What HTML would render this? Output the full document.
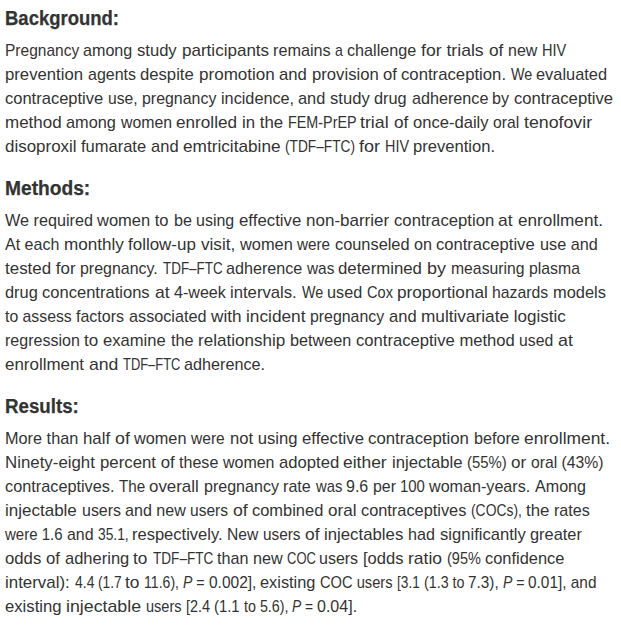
<!DOCTYPE html><html><head><meta charset="utf-8"><style>
html,body{margin:0;padding:0;background:#fff;width:621px;height:629px;overflow:hidden}
body{position:relative;font-family:"Liberation Sans",sans-serif}
.l{position:absolute;white-space:pre;transform-origin:0 0;line-height:1}
.b{font-size:17px;color:#333;}
.h{font-size:19.5px;color:#333;font-weight:bold;-webkit-text-stroke:0.25px #333}
</style></head><body>
<div class="l h" style="left:5.00px;top:9.30px;transform:scaleX(0.9479)">Background:</div>
<div class="l b" style="left:5.00px;top:41.80px;transform:scaleX(0.9122)">Pregnancy </div>
<div class="l b" style="left:83.45px;top:41.80px;transform:scaleX(0.9483)">among </div>
<div class="l b" style="left:137.22px;top:41.80px;transform:scaleX(0.9761)">study </div>
<div class="l b" style="left:181.50px;top:41.80px;transform:scaleX(1.0019)">participants </div>
<div class="l b" style="left:273.35px;top:41.80px;transform:scaleX(0.9530)">remains </div>
<div class="l b" style="left:335.47px;top:41.80px;transform:scaleX(0.8302)">a </div>
<div class="l b" style="left:347.25px;top:41.80px;transform:scaleX(0.9514)">challenge </div>
<div class="l b" style="left:421.00px;top:41.80px;transform:scaleX(1.0368)">for trials </div>
<div class="l b" style="left:488.59px;top:41.80px;transform:scaleX(1.0141)">of </div>
<div class="l b" style="left:507.76px;top:41.80px;transform:scaleX(0.9405)">new </div>
<div class="l b" style="left:541.54px;top:41.80px;transform:scaleX(0.8556)">HIV</div>
<div class="l b" style="left:5.00px;top:65.80px;transform:scaleX(0.9826)">prevention </div>
<div class="l b" style="left:87.66px;top:65.80px;transform:scaleX(0.9407)">agents </div>
<div class="l b" style="left:140.12px;top:65.80px;transform:scaleX(0.9804)">despite </div>
<div class="l b" style="left:198.50px;top:65.80px;transform:scaleX(1.0024)">promotion </div>
<div class="l b" style="left:279.02px;top:65.80px;transform:scaleX(0.9821)">and </div>
<div class="l b" style="left:311.52px;top:65.80px;transform:scaleX(0.9813)">provision </div>
<div class="l b" style="left:382.92px;top:65.80px;transform:scaleX(0.9782)">of </div>
<div class="l b" style="left:401.42px;top:65.80px;transform:scaleX(0.9836)">contraception. </div>
<div class="l b" style="left:511.10px;top:65.80px;transform:scaleX(0.8434)">We </div>
<div class="l b" style="left:536.34px;top:65.80px;transform:scaleX(0.9639)">evaluated</div>
<div class="l b" style="left:5.00px;top:89.80px;transform:scaleX(0.9710)">contraceptive </div>
<div class="l b" style="left:107.78px;top:89.80px;transform:scaleX(0.9220)">use, </div>
<div class="l b" style="left:141.76px;top:89.80px;transform:scaleX(0.9365)">pregnancy </div>
<div class="l b" style="left:220.55px;top:89.80px;transform:scaleX(0.9546)">incidence, </div>
<div class="l b" style="left:298.14px;top:89.80px;transform:scaleX(0.9635)">and </div>
<div class="l b" style="left:330.02px;top:89.80px;transform:scaleX(0.9770)">study </div>
<div class="l b" style="left:374.34px;top:89.80px;transform:scaleX(0.9602)">drug </div>
<div class="l b" style="left:411.55px;top:89.80px;transform:scaleX(0.9509)">adherence </div>
<div class="l b" style="left:492.45px;top:89.80px;transform:scaleX(0.9508)">by </div>
<div class="l b" style="left:514.02px;top:89.80px;transform:scaleX(0.9798)">contraceptive</div>
<div class="l b" style="left:5.00px;top:113.80px;transform:scaleX(0.9984)">method </div>
<div class="l b" style="left:66.34px;top:113.80px;transform:scaleX(0.9587)">among </div>
<div class="l b" style="left:120.70px;top:113.80px;transform:scaleX(0.9321)">women </div>
<div class="l b" style="left:176.19px;top:113.80px;transform:scaleX(1.0092)">enrolled </div>
<div class="l b" style="left:242.01px;top:113.80px;transform:scaleX(0.9877)">in the </div>
<div class="l b" style="left:287.76px;top:113.80px;transform:scaleX(0.8447)">FEM-PrEP </div>
<div class="l b" style="left:360.10px;top:113.80px;transform:scaleX(1.0455)">trial </div>
<div class="l b" style="left:393.69px;top:113.80px;transform:scaleX(1.0122)">of </div>
<div class="l b" style="left:412.83px;top:113.80px;transform:scaleX(0.9749)">once-daily </div>
<div class="l b" style="left:492.98px;top:113.80px;transform:scaleX(0.9227)">oral </div>
<div class="l b" style="left:523.50px;top:113.80px;transform:scaleX(1.0446)">tenofovir</div>
<div class="l b" style="left:5.00px;top:137.80px;transform:scaleX(0.9968)">disoproxil </div>
<div class="l b" style="left:81.30px;top:137.80px;transform:scaleX(0.9710)">fumarate </div>
<div class="l b" style="left:151.03px;top:137.80px;transform:scaleX(0.9718)">and </div>
<div class="l b" style="left:183.19px;top:137.80px;transform:scaleX(1.0118)">emtricitabine </div>
<div class="l b" style="left:285.49px;top:137.80px;transform:scaleX(0.8058)">(TDF&ndash;FTC) </div>
<div class="l b" style="left:359.30px;top:137.80px;transform:scaleX(1.0648)">for </div>
<div class="l b" style="left:385.45px;top:137.80px;transform:scaleX(0.8460)">HIV </div>
<div class="l b" style="left:413.42px;top:137.80px;transform:scaleX(0.9756)">prevention.</div>
<div class="l h" style="left:5.00px;top:179.00px;transform:scaleX(0.9835)">Methods:</div>
<div class="l b" style="left:5.00px;top:211.70px;transform:scaleX(0.9524)">We required </div>
<div class="l b" style="left:97.40px;top:211.70px;transform:scaleX(0.9708)">women to </div>
<div class="l b" style="left:173.55px;top:211.70px;transform:scaleX(0.9523)">be </div>
<div class="l b" style="left:196.06px;top:211.70px;transform:scaleX(0.9400)">using </div>
<div class="l b" style="left:238.71px;top:211.70px;transform:scaleX(0.9890)">effective </div>
<div class="l b" style="left:305.70px;top:211.70px;transform:scaleX(1.0005)">non-barrier </div>
<div class="l b" style="left:393.62px;top:211.70px;transform:scaleX(0.9819)">contraception </div>
<div class="l b" style="left:498.48px;top:211.70px;transform:scaleX(1.0214)">at </div>
<div class="l b" style="left:517.79px;top:211.70px;transform:scaleX(1.0111)">enrollment.</div>
<div class="l b" style="left:5.00px;top:235.70px;transform:scaleX(0.9426)">At each </div>
<div class="l b" style="left:63.79px;top:235.70px;transform:scaleX(1.0055)">monthly </div>
<div class="l b" style="left:128.40px;top:235.70px;transform:scaleX(0.9977)">follow-up </div>
<div class="l b" style="left:201.00px;top:235.70px;transform:scaleX(1.0069)">visit, </div>
<div class="l b" style="left:240.00px;top:235.70px;transform:scaleX(0.9642)">women </div>
<div class="l b" style="left:297.40px;top:235.70px;transform:scaleX(0.8980)">were </div>
<div class="l b" style="left:334.74px;top:235.70px;transform:scaleX(0.9620)">counseled </div>
<div class="l b" style="left:413.85px;top:235.70px;transform:scaleX(0.9507)">on </div>
<div class="l b" style="left:436.32px;top:235.70px;transform:scaleX(0.9752)">contraceptive </div>
<div class="l b" style="left:539.54px;top:235.70px;transform:scaleX(0.9552)">use and</div>
<div class="l b" style="left:5.00px;top:259.70px;transform:scaleX(0.9967)">tested for </div>
<div class="l b" style="left:80.36px;top:259.70px;transform:scaleX(0.9379)">pregnancy. </div>
<div class="l b" style="left:162.50px;top:259.70px;transform:scaleX(0.7891)">TDF&ndash;FTC </div>
<div class="l b" style="left:225.85px;top:259.70px;transform:scaleX(0.9503)">adherence </div>
<div class="l b" style="left:306.70px;top:259.70px;transform:scaleX(0.9041)">was </div>
<div class="l b" style="left:338.31px;top:259.70px;transform:scaleX(0.9861)">determined </div>
<div class="l b" style="left:426.85px;top:259.70px;transform:scaleX(1.0547)">by </div>
<div class="l b" style="left:450.77px;top:259.70px;transform:scaleX(0.9261)">measuring </div>
<div class="l b" style="left:528.67px;top:259.70px;transform:scaleX(0.9296)">plasma</div>
<div class="l b" style="left:5.00px;top:283.70px;transform:scaleX(0.9633)">drug </div>
<div class="l b" style="left:42.33px;top:283.70px;transform:scaleX(0.9735)">concentrations </div>
<div class="l b" style="left:154.57px;top:283.70px;transform:scaleX(1.0276)">at </div>
<div class="l b" style="left:174.00px;top:283.70px;transform:scaleX(0.9460)">4-week </div>
<div class="l b" style="left:230.32px;top:283.70px;transform:scaleX(0.9812)">intervals. </div>
<div class="l b" style="left:301.70px;top:283.70px;transform:scaleX(0.8404)">We </div>
<div class="l b" style="left:326.85px;top:283.70px;transform:scaleX(0.9544)">used </div>
<div class="l b" style="left:366.54px;top:283.70px;transform:scaleX(0.8592)">Cox </div>
<div class="l b" style="left:396.59px;top:283.70px;transform:scaleX(1.0124)">proportional </div>
<div class="l b" style="left:492.27px;top:283.70px;transform:scaleX(0.9288)">hazards </div>
<div class="l b" style="left:552.83px;top:283.70px;transform:scaleX(0.9660)">models</div>
<div class="l b" style="left:5.00px;top:307.70px;transform:scaleX(0.9288)">to assess </div>
<div class="l b" style="left:76.10px;top:307.70px;transform:scaleX(0.9425)">factors </div>
<div class="l b" style="left:128.65px;top:307.70px;transform:scaleX(0.9541)">associated </div>
<div class="l b" style="left:210.70px;top:307.70px;transform:scaleX(1.0090)">with </div>
<div class="l b" style="left:245.98px;top:307.70px;transform:scaleX(1.0150)">incident </div>
<div class="l b" style="left:310.27px;top:307.70px;transform:scaleX(0.9339)">pregnancy </div>
<div class="l b" style="left:388.83px;top:307.70px;transform:scaleX(0.9718)">and </div>
<div class="l b" style="left:420.99px;top:307.70px;transform:scaleX(1.0128)">multivariate </div>
<div class="l b" style="left:513.80px;top:307.70px;transform:scaleX(1.0000)">logistic</div>
<div class="l b" style="left:5.00px;top:331.70px;transform:scaleX(0.9428)">regression </div>
<div class="l b" style="left:84.30px;top:331.70px;transform:scaleX(1.0010)">to </div>
<div class="l b" style="left:103.22px;top:331.70px;transform:scaleX(0.9752)">examine </div>
<div class="l b" style="left:170.50px;top:331.70px;transform:scaleX(0.9554)">the </div>
<div class="l b" style="left:197.60px;top:331.70px;transform:scaleX(1.0041)">relationship </div>
<div class="l b" style="left:289.65px;top:331.70px;transform:scaleX(0.9547)">between </div>
<div class="l b" style="left:355.52px;top:331.70px;transform:scaleX(0.9772)">contraceptive method </div>
<div class="l b" style="left:518.97px;top:331.70px;transform:scaleX(0.9276)">used </div>
<div class="l b" style="left:557.55px;top:331.70px;transform:scaleX(1.0462)">at</div>
<div class="l b" style="left:5.00px;top:355.70px;transform:scaleX(0.9959)">enrollment </div>
<div class="l b" style="left:88.76px;top:355.70px;transform:scaleX(1.0376)">and </div>
<div class="l b" style="left:123.10px;top:355.70px;transform:scaleX(0.7592)">TDF&ndash;FTC </div>
<div class="l b" style="left:184.05px;top:355.70px;transform:scaleX(0.9524)">adherence.</div>
<div class="l h" style="left:5.00px;top:397.00px;transform:scaleX(0.9600)">Results:</div>
<div class="l b" style="left:5.00px;top:429.50px;transform:scaleX(0.9575)">More than </div>
<div class="l b" style="left:82.81px;top:429.50px;transform:scaleX(0.9875)">half </div>
<div class="l b" style="left:114.55px;top:429.50px;transform:scaleX(1.0499)">of </div>
<div class="l b" style="left:134.40px;top:429.50px;transform:scaleX(0.9575)">women </div>
<div class="l b" style="left:191.40px;top:429.50px;transform:scaleX(0.9168)">were </div>
<div class="l b" style="left:229.52px;top:429.50px;transform:scaleX(0.9791)">not using </div>
<div class="l b" style="left:301.72px;top:429.50px;transform:scaleX(0.9832)">effective </div>
<div class="l b" style="left:368.31px;top:429.50px;transform:scaleX(0.9882)">contraception </div>
<div class="l b" style="left:473.85px;top:429.50px;transform:scaleX(0.9507)">before </div>
<div class="l b" style="left:524.18px;top:429.50px;transform:scaleX(1.0222)">enrollment.</div>
<div class="l b" style="left:5.00px;top:453.50px;transform:scaleX(0.9913)">Ninety-eight </div>
<div class="l b" style="left:99.61px;top:453.50px;transform:scaleX(0.9883)">percent of </div>
<div class="l b" style="left:179.00px;top:453.50px;transform:scaleX(0.9457)">these </div>
<div class="l b" style="left:222.80px;top:453.50px;transform:scaleX(0.9377)">women </div>
<div class="l b" style="left:278.62px;top:453.50px;transform:scaleX(0.9798)">adopted </div>
<div class="l b" style="left:343.47px;top:453.50px;transform:scaleX(1.0274)">either </div>
<div class="l b" style="left:392.02px;top:453.50px;transform:scaleX(0.9810)">injectable </div>
<div class="l b" style="left:467.13px;top:453.50px;transform:scaleX(0.8741)">(55%) </div>
<div class="l b" style="left:510.90px;top:453.50px;transform:scaleX(1.0017)">or </div>
<div class="l b" style="left:530.78px;top:453.50px;transform:scaleX(0.9250)">oral (43%)</div>
<div class="l b" style="left:5.00px;top:477.50px;transform:scaleX(0.9575)">contraceptives. </div>
<div class="l b" style="left:119.00px;top:477.50px;transform:scaleX(0.8935)">The </div>
<div class="l b" style="left:149.41px;top:477.50px;transform:scaleX(0.9934)">overall </div>
<div class="l b" style="left:203.86px;top:477.50px;transform:scaleX(0.9438)">pregnancy </div>
<div class="l b" style="left:283.25px;top:477.50px;transform:scaleX(0.9506)">rate </div>
<div class="l b" style="left:315.60px;top:477.50px;transform:scaleX(0.8710)">was </div>
<div class="l b" style="left:346.06px;top:477.50px;transform:scaleX(0.9418)">9.6 </div>
<div class="l b" style="left:372.77px;top:477.50px;transform:scaleX(0.9337)">per </div>
<div class="l b" style="left:400.12px;top:477.50px;transform:scaleX(0.8787)">100 </div>
<div class="l b" style="left:429.20px;top:477.50px;transform:scaleX(0.9481)">woman-years. </div>
<div class="l b" style="left:534.90px;top:477.50px;transform:scaleX(0.9472)">Among</div>
<div class="l b" style="left:5.00px;top:501.50px;transform:scaleX(1.0000)">injectable </div>
<div class="l b" style="left:81.56px;top:501.50px;transform:scaleX(0.9395)">users </div>
<div class="l b" style="left:125.05px;top:501.50px;transform:scaleX(0.9454)">and new </div>
<div class="l b" style="left:190.28px;top:501.50px;transform:scaleX(0.9153)">users </div>
<div class="l b" style="left:232.66px;top:501.50px;transform:scaleX(1.0406)">of </div>
<div class="l b" style="left:252.33px;top:501.50px;transform:scaleX(0.9672)">combined </div>
<div class="l b" style="left:328.19px;top:501.50px;transform:scaleX(1.0050)">oral </div>
<div class="l b" style="left:361.44px;top:501.50px;transform:scaleX(0.9607)">contraceptives </div>
<div class="l b" style="left:471.28px;top:501.50px;transform:scaleX(0.8161)">(COCs), </div>
<div class="l b" style="left:526.00px;top:501.50px;transform:scaleX(0.9892)">the </div>
<div class="l b" style="left:554.05px;top:501.50px;transform:scaleX(0.9472)">rates</div>
<div class="l b" style="left:5.00px;top:525.50px;transform:scaleX(0.8831)">were 1.6 </div>
<div class="l b" style="left:66.76px;top:525.50px;transform:scaleX(0.9375)">and </div>
<div class="l b" style="left:97.79px;top:525.50px;transform:scaleX(0.8118)">35.1, </div>
<div class="l b" style="left:132.33px;top:525.50px;transform:scaleX(0.9714)">respectively. </div>
<div class="l b" style="left:227.48px;top:525.50px;transform:scaleX(0.9195)">New </div>
<div class="l b" style="left:263.10px;top:525.50px;transform:scaleX(0.9024)">users </div>
<div class="l b" style="left:304.88px;top:525.50px;transform:scaleX(1.0227)">of </div>
<div class="l b" style="left:324.21px;top:525.50px;transform:scaleX(0.9868)">injectables </div>
<div class="l b" style="left:408.15px;top:525.50px;transform:scaleX(0.9480)">had </div>
<div class="l b" style="left:439.52px;top:525.50px;transform:scaleX(0.9763)">significantly </div>
<div class="l b" style="left:529.94px;top:525.50px;transform:scaleX(0.9642)">greater</div>
<div class="l b" style="left:5.00px;top:549.50px;transform:scaleX(0.9839)">odds of </div>
<div class="l b" style="left:64.53px;top:549.50px;transform:scaleX(0.9715)">adhering </div>
<div class="l b" style="left:133.40px;top:549.50px;transform:scaleX(1.0102)">to </div>
<div class="l b" style="left:152.50px;top:549.50px;transform:scaleX(0.7997)">TDF&ndash;FTC </div>
<div class="l b" style="left:216.70px;top:549.50px;transform:scaleX(0.9525)">than new </div>
<div class="l b" style="left:286.93px;top:549.50px;transform:scaleX(0.7653)">COC </div>
<div class="l b" style="left:319.46px;top:549.50px;transform:scaleX(0.9411)">users </div>
<div class="l b" style="left:363.03px;top:549.50px;transform:scaleX(0.9726)">[odds </div>
<div class="l b" style="left:408.07px;top:549.50px;transform:scaleX(1.0285)">ratio </div>
<div class="l b" style="left:446.95px;top:549.50px;transform:scaleX(0.8529)">(95% </div>
<div class="l b" style="left:484.84px;top:549.50px;transform:scaleX(0.9650)">confidence</div>
<div class="l b" style="left:5.00px;top:573.50px;transform:scaleX(0.9940)">interval): </div>
<div class="l b" style="left:74.50px;top:573.50px;transform:scaleX(0.8214)">4.4 </div>
<div class="l b" style="left:97.79px;top:573.50px;transform:scaleX(0.8053)">(1.7 </div>
<div class="l b" style="left:125.20px;top:573.50px;transform:scaleX(1.0193)">to </div>
<div class="l b" style="left:144.47px;top:573.50px;transform:scaleX(0.8289)">11.6), </div>
<div class="l b" style="left:183.38px;top:573.50px;transform:scaleX(0.8240)"><i>P</i> = </div>
<div class="l b" style="left:208.69px;top:573.50px;transform:scaleX(0.9106)">0.002], </div>
<div class="l b" style="left:260.34px;top:573.50px;transform:scaleX(0.9619)">existing </div>
<div class="l b" style="left:320.34px;top:573.50px;transform:scaleX(0.8633)">COC users </div>
<div class="l b" style="left:397.00px;top:573.50px;transform:scaleX(0.8027)">[3.1 </div>
<div class="l b" style="left:423.56px;top:573.50px;transform:scaleX(0.8397)">(1.3 to </div>
<div class="l b" style="left:468.00px;top:573.50px;transform:scaleX(0.9027)">7.3), </div>
<div class="l b" style="left:502.98px;top:573.50px;transform:scaleX(0.8242)"><i>P</i> = </div>
<div class="l b" style="left:528.29px;top:573.50px;transform:scaleX(0.9054)">0.01], and</div>
<div class="l b" style="left:5.00px;top:597.50px;transform:scaleX(0.9804)">existing </div>
<div class="l b" style="left:66.16px;top:597.50px;transform:scaleX(1.0448)">injectable </div>
<div class="l b" style="left:146.14px;top:597.50px;transform:scaleX(0.8554)">users </div>
<div class="l b" style="left:185.75px;top:597.50px;transform:scaleX(0.8514)">[2.4 </div>
<div class="l b" style="left:213.93px;top:597.50px;transform:scaleX(0.8749)">(1.1 </div>
<div class="l b" style="left:243.70px;top:597.50px;transform:scaleX(0.8413)">to 5.6), </div>
<div class="l b" style="left:292.19px;top:597.50px;transform:scaleX(0.8095)"><i>P</i> = </div>
<div class="l b" style="left:317.06px;top:597.50px;transform:scaleX(0.9425)">0.04].</div>
</body></html>
